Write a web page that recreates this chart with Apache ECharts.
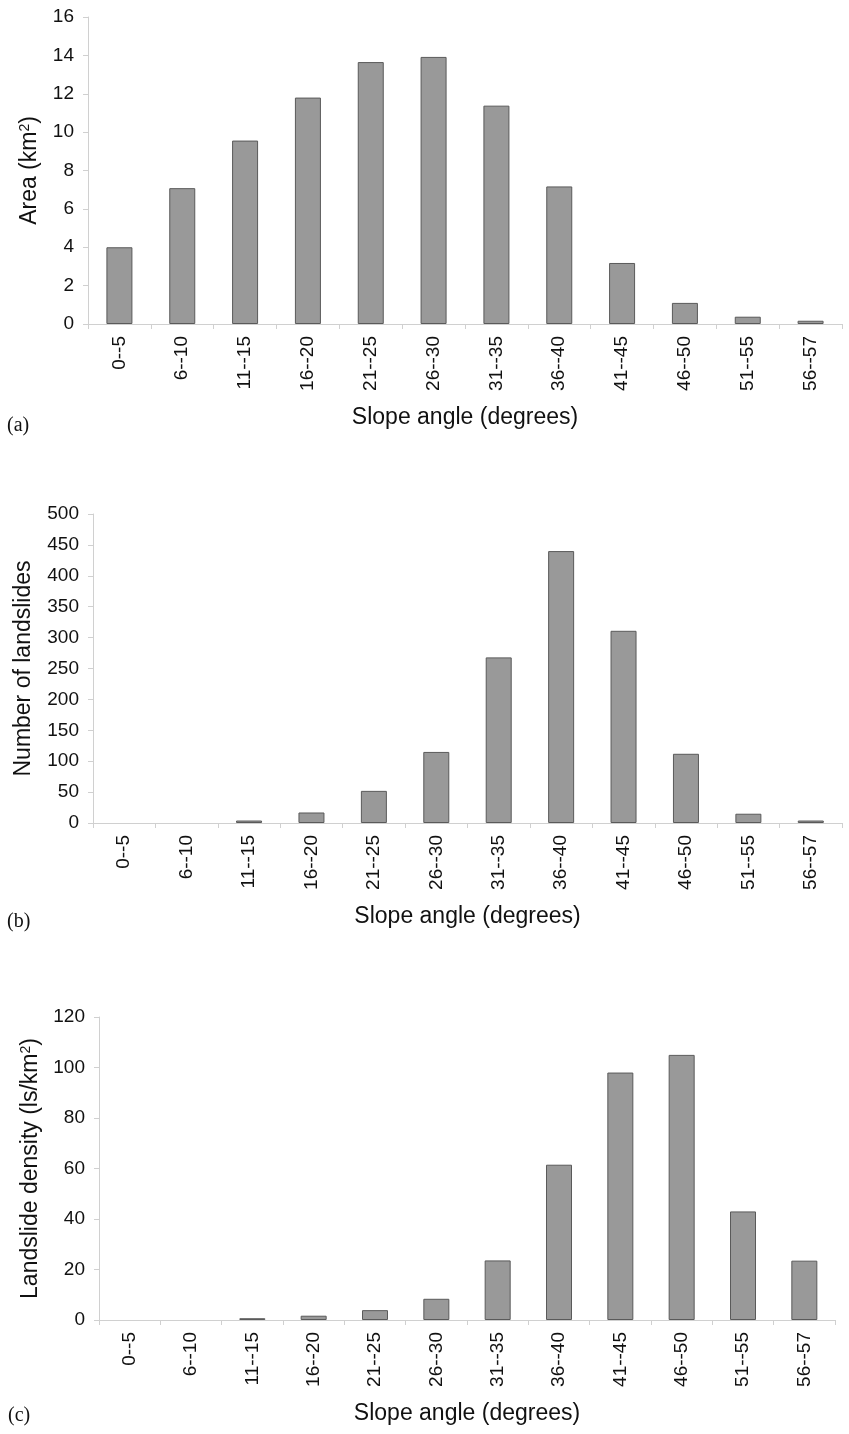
<!DOCTYPE html>
<html>
<head>
<meta charset="utf-8">
<script src="https://cdn.jsdelivr.net/npm/echarts@6/dist/echarts.min.js"></script>
<style>
html,body{margin:0;padding:0;background:#fff;}
#main{width:849px;height:1434px;}
</style>
</head>
<body>
<div id="main"></div>
<script>
const categories = ['0--5','6--10','11--15','16--20','21--25','26--30','31--35','36--40','41--45','46--50','51--55','56--57'];
const areaKm2 = [4.0, 7.08, 9.56, 11.8, 13.65, 13.92, 11.38, 7.17, 3.18, 1.1, 0.38, 0.17];
const landslideCount = [0, 0, 4, 17, 52, 115, 268, 440, 311, 112, 15, 4];
const landslideDensity = [0, 0, 0.7, 1.7, 3.9, 8.4, 23.6, 61.5, 98, 105, 43, 23.5];
const yTicksA = {min: 0, max: 16, interval: 2};
const yTicksB = {min: 0, max: 500, interval: 50};
const yTicksC = {min: 0, max: 120, interval: 20};
const xAxisTitle = 'Slope angle (degrees)';
const panelLabels = ['(a)', '(b)', '(c)'];

const chart = echarts.init(document.getElementById('main'), null, {renderer: 'canvas'});
const FONT = 'Liberation Sans, Arial, Helvetica, sans-serif';
const axisGray = '#d0d0d0';

const grids = [
  {left: 88, right: 7, top: 17, height: 307},
  {left: 93, right: 7, top: 514, height: 309},
  {left: 99, right: 14, top: 1017, height: 303}
];

// zero-height classes draw no bar at all in the reference
const noZero = arr => arr.map(v => (v === 0 ? '-' : v));

function xAxisFor(i) {
  return {
    type: 'category', gridIndex: i, data: categories,
    axisLine: {show: true, lineStyle: {color: axisGray, width: 1}},
    axisTick: {show: true, alignWithLabel: false, length: 5, lineStyle: {color: axisGray}},
    axisLabel: {rotate: 90, color: '#111', fontFamily: FONT, fontSize: 19, margin: 12, interval: 0},
    name: xAxisTitle, nameLocation: 'middle', nameGap: 82,
    nameTextStyle: {color: '#111', fontFamily: FONT, fontSize: 23}
  };
}
function yAxisFor(i, ticks, name, gap) {
  return {
    type: 'value', gridIndex: i, min: ticks.min, max: ticks.max, interval: ticks.interval,
    splitLine: {show: false},
    axisLine: {show: true, lineStyle: {color: axisGray, width: 1}},
    axisTick: {show: true, length: 5, lineStyle: {color: axisGray}},
    axisLabel: {color: '#111', fontFamily: FONT, fontSize: 19, margin: 14},
    name: name, nameLocation: 'middle', nameGap: gap, nameRotate: 90,
    nameTextStyle: {color: '#111', fontFamily: FONT, fontSize: 23,
      rich: {sup: {fontSize: 14, verticalAlign: 'top', padding: [0,0,10,0], fontFamily: FONT, color: '#111'}}}
  };
}
const barStyle = {color: '#999999', borderColor: '#5a5a5a', borderWidth: 1};

const option = {
  backgroundColor: '#fff',
  animation: false,
  grid: grids,
  xAxis: [xAxisFor(0), xAxisFor(1), xAxisFor(2)],
  yAxis: [
    yAxisFor(0, yTicksA, 'Area (km{sup|2})', 46),
    yAxisFor(1, yTicksB, 'Number of landslides', 58),
    yAxisFor(2, yTicksC, 'Landslide density (ls/km{sup|2})', 55)
  ],
  series: [
    {type: 'bar', xAxisIndex: 0, yAxisIndex: 0, data: noZero(areaKm2), barWidth: 26, itemStyle: barStyle},
    {type: 'bar', xAxisIndex: 1, yAxisIndex: 1, data: noZero(landslideCount), barWidth: 26, itemStyle: barStyle},
    {type: 'bar', xAxisIndex: 2, yAxisIndex: 2, data: noZero(landslideDensity), barWidth: 26, itemStyle: barStyle}
  ],
  graphic: [
    {type: 'text', left: 7, top: 416, style: {text: panelLabels[0], font: '20px "Liberation Serif", "Times New Roman", serif', fill: '#111'}},
    {type: 'text', left: 7, top: 912, style: {text: panelLabels[1], font: '20px "Liberation Serif", "Times New Roman", serif', fill: '#111'}},
    {type: 'text', left: 8, top: 1406, style: {text: panelLabels[2], font: '20px "Liberation Serif", "Times New Roman", serif', fill: '#111'}}
  ]
};
chart.setOption(option);
</script>
</body>
</html>
